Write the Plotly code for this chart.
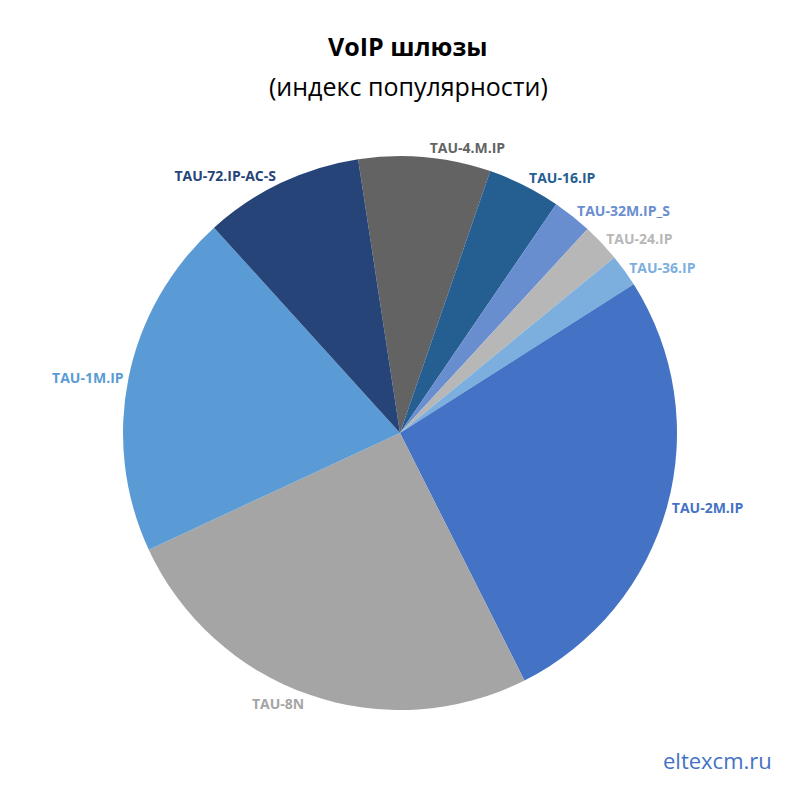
import plotly.graph_objects as go

labels = ["TAU-4.M.IP", "TAU-16.IP", "TAU-32M.IP_S", "TAU-24.IP", "TAU-36.IP",
          "TAU-2M.IP", "TAU-8N", "TAU-1M.IP", "TAU-72.IP-AC-S"]
values = [7.7, 4.25, 2.3, 2.25, 1.9, 26.6, 25.5, 20.2, 9.3]
colors = ["#636363", "#255e91", "#698ed0", "#b7b7b7", "#7cafdd",
          "#4472c4", "#a5a5a5", "#5b9bd5", "#264478"]

fig = go.Figure(go.Pie(
    labels=labels, values=values, sort=False, direction="clockwise",
    rotation=-8.7, marker=dict(colors=colors, line=dict(color="white", width=0)),
    texttemplate="<b>%{label}</b>", textposition="outside",
    outsidetextfont=dict(color=colors, size=14, family="Open Sans"),
    hoverinfo="none", showlegend=False,
    domain=dict(x=[115/800, 669/800], y=[98/800, 652/800]),
))
fig.update_layout(
    width=800, height=800, margin=dict(l=0, r=0, t=0, b=0),
    paper_bgcolor="white", plot_bgcolor="white",
    annotations=[
        dict(text="<b>VoIP шлюзы</b>", x=0.5, y=1-38/800, xref="paper", yref="paper",
             yanchor="middle", showarrow=False,
             font=dict(size=25, family="Open Sans", color="black")),
        dict(text="(индекс популярности)", x=0.5, y=1-78/800, xref="paper", yref="paper",
             yanchor="middle", showarrow=False,
             font=dict(size=25, family="Open Sans", color="black")),
        dict(text="eltexcm.ru", x=766/800, y=1-752/800, xref="paper", yref="paper",
             xanchor="right", yanchor="middle", showarrow=False,
             font=dict(size=22, family="Open Sans", color="#4472c4")),
    ],
)
fig.write_html("out.html")
